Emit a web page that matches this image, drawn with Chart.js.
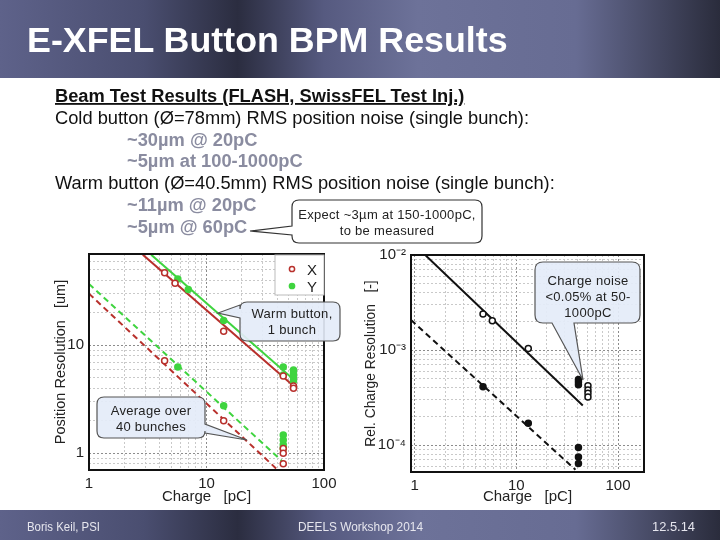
<!DOCTYPE html>
<html>
<head>
<meta charset="utf-8">
<script src="https://cdn.jsdelivr.net/npm/chart.js@4.4.1/dist/chart.umd.min.js"></script>
<style>
body { margin: 0; width: 720px; height: 540px; position: relative; overflow: hidden; background: #fff; font-family: "Liberation Sans", Arial, sans-serif; }
.bar { position: absolute; left: 0; width: 720px;
  background: linear-gradient(to right, #5e628a 0%, #4a4e70 20%, #2b2d40 33%, #565a80 45%, #6d7299 58%, #676c93 80%, #2a2c3c 100%); }
#top { top: 0; height: 78px; }
#bottom { top: 510px; height: 30px; }
canvas { position: absolute; }
#posChart { left: 40px; top: 240px; }
#chgChart { left: 355px; top: 240px; }
#over { position: absolute; left: 0; top: 0; pointer-events: none; }
</style>
</head>
<body>
<div class="bar" id="top"></div>
<div class="bar" id="bottom"></div>
<canvas id="posChart" width="302" height="270"></canvas>
<canvas id="chgChart" width="300" height="270"></canvas>
<svg id="over" width="720" height="540"></svg>
<script>
// ---- left plot: position resolution (warm button) ----
var xSingleQ   = [4.4, 5.4, 14, 45, 55, 55];
var xSingleRes = [46.9, 37.6, 13.5, 5.2, 4.2, 4.0];
var ySingleQ   = [5.7, 7.0, 14, 45, 45, 55, 55, 55, 55];
var ySingleRes = [41, 32.9, 17, 6.3, 5.3, 5.9, 5.5, 5.1, 4.7];
var xAvgQ   = [4.4, 14, 45, 45, 45];
var xAvgRes = [7.2, 2.0, 1.11, 1.0, 0.8];
var yAvgQ   = [5.7, 14, 45, 45, 45, 45];
var yAvgRes = [6.3, 2.75, 1.48, 1.33, 1.2, 1.11];
var xFitQ = [2.87, 58],  xFitRes = [69, 4.0];
var yFitQ = [3.38, 58],  yFitRes = [69, 4.6];
var xAvgFitQ = [1, 40.4], xAvgFitRes = [30, 0.7];
var yAvgFitQ = [1, 46],   yAvgFitRes = [37, 0.81];
var posXTicks = [1, 10, 100],  posXLabels = ["1", "10", "100"];
var posYTicks = [1, 10],       posYLabels = ["1", "10"];

// ---- right plot: relative charge resolution ----
var qSingleQ   = [4.7, 5.8, 13.1, 50.6, 50.6, 50.6, 50.6];
var qSingleRes = [2.39e-3, 2.03e-3, 1.04e-3, 4.2e-4, 3.8e-4, 3.5e-4, 3.2e-4];
var qAvgQ   = [4.7, 13.1, 40.8, 40.8, 40.8, 40.8, 40.8, 40.8];
var qAvgRes = [4.1e-4, 1.69e-4, 4.9e-4, 4.6e-4, 4.3e-4, 9.4e-5, 7.5e-5, 6.4e-5];
var qFitQ = [1.27, 45],    qFitRes = [1e-2, 2.6e-4];
var qAvgFitQ = [0.92, 38.1], qAvgFitRes = [2.07e-3, 5.5e-5];
var chgXTicks = [1, 10, 100],        chgXLabels = ["1", "10", "100"];
var chgYTicks = [1e-4, 1e-3, 1e-2],  chgYLabels = ["10\u207B\u2074", "10\u207B\u00B3", "10\u207B\u00B2"];

var RED = "#b8302c", GREEN = "#3fd43f";
var FONT = "'Liberation Sans', Arial, sans-serif";

function pts(xs, ys) { return xs.map(function (x, i) { return { x: x, y: ys[i] }; }); }
function isDecade(v) { var l = Math.log10(v); return Math.abs(l - Math.round(l)) < 1e-6; }
function logGrid(scale) {
  var t = [];
  for (var e = Math.floor(Math.log10(scale.min)); e <= Math.ceil(Math.log10(scale.max)); e++) {
    for (var m = 1; m < 10; m++) {
      var v = m * Math.pow(10, e);
      if (v >= scale.min * 0.999 && v <= scale.max * 1.001) t.push({ value: v });
    }
  }
  scale.ticks = t;
}
function labelFrom(vals, texts) {
  return function (v) {
    for (var i = 0; i < vals.length; i++) if (Math.abs(v / vals[i] - 1) < 1e-6) return texts[i];
    return "";
  };
}

var frame = {
  id: "frame",
  afterDraw: function (c) {
    var a = c.chartArea, ctx = c.ctx;
    ctx.save();
    ctx.strokeStyle = "#111";
    ctx.lineWidth = 2;
    ctx.strokeRect(a.left, a.top, a.right - a.left, a.bottom - a.top);
    ctx.restore();
  }
};

function axis(min, max, vals, texts, title, size, titleSize) {
  return {
    type: "logarithmic",
    min: min, max: max,
    afterBuildTicks: logGrid,
    afterFit: function (s) { if (s.isHorizontal()) s.height = size; else s.width = size; },
    grid: {
      drawTicks: false,
      color: function (ctx) { return ctx.tick && isDecade(ctx.tick.value) ? "#8c8c8c" : "#c9c9c9"; },
      lineWidth: 1
    },
    border: { display: false, dash: [2, 2] },
    ticks: {
      autoSkip: false, maxRotation: 0, padding: 5,
      color: "#222", font: { family: FONT, size: 15 },
      callback: labelFrom(vals, texts)
    },
    title: { display: true, text: title, color: "#222", font: { family: FONT, size: titleSize }, padding: { top: 0, bottom: 4 } }
  };
}

function scatterSet(data, color, filled) {
  return {
    data: data, showLine: false,
    pointRadius: 3, pointBorderWidth: 1.5,
    pointBackgroundColor: filled ? color : "#fff",
    pointBorderColor: color
  };
}
function fitSet(data, color, dashed) {
  return {
    data: data, showLine: true, pointRadius: 0,
    borderColor: color, borderWidth: 2, borderDash: dashed ? [6, 4] : []
  };
}

new Chart(document.getElementById("posChart"), {
  type: "scatter",
  data: {
    datasets: [
      scatterSet(pts(xSingleQ, xSingleRes), RED, false),
      scatterSet(pts(xAvgQ, xAvgRes), RED, false),
      scatterSet(pts(ySingleQ, ySingleRes), GREEN, true),
      scatterSet(pts(yAvgQ, yAvgRes), GREEN, true),
      fitSet(pts(xFitQ, xFitRes), RED, false),
      fitSet(pts(yFitQ, yFitRes), GREEN, false),
      fitSet(pts(xAvgFitQ, xAvgFitRes), RED, true),
      fitSet(pts(yAvgFitQ, yAvgFitRes), GREEN, true)
    ]
  },
  options: {
    responsive: false, animation: false, devicePixelRatio: 1,
    layout: { padding: { top: 14, right: 18, left: 12, bottom: 0 } },
    plugins: { legend: { display: false }, tooltip: { enabled: false } },
    scales: {
      x: axis(1, 100, posXTicks, posXLabels, "Charge   [pC]", 40, 15),
      y: axis(0.7, 70, posYTicks, posYLabels, "Position Resolution   [um]", 37, 14.5)
    }
  },
  plugins: [frame]
});

new Chart(document.getElementById("chgChart"), {
  type: "scatter",
  data: {
    datasets: [
      scatterSet(pts(qSingleQ, qSingleRes), "#111", false),
      scatterSet(pts(qAvgQ, qAvgRes), "#111", true),
      fitSet(pts(qFitQ, qFitRes), "#111", false),
      fitSet(pts(qAvgFitQ, qAvgFitRes), "#111", true)
    ]
  },
  options: {
    responsive: false, animation: false, devicePixelRatio: 1,
    layout: { padding: { top: 15, right: 11, left: 8, bottom: 0 } },
    plugins: { legend: { display: false }, tooltip: { enabled: false } },
    scales: {
      x: axis(0.92, 180, chgXTicks, chgXLabels, "Charge   [pC]", 38, 15),
      y: axis(5.2e-5, 1e-2, chgYTicks, chgYLabels, "Rel. Charge Resolution   [-]", 48, 13.8)
    }
  },
  plugins: [frame]
});

// ---- slide text, callouts, legend ----
function callout(x, y, w, h, r, side, a, b, tx, ty) {
  var d = "M" + (x + r) + "," + y;
  d += " L" + (x + w - r) + "," + y + " Q" + (x + w) + "," + y + " " + (x + w) + "," + (y + r);
  if (side === "right") d += " L" + (x + w) + "," + a + " L" + tx + "," + ty + " L" + (x + w) + "," + b;
  d += " L" + (x + w) + "," + (y + h - r) + " Q" + (x + w) + "," + (y + h) + " " + (x + w - r) + "," + (y + h);
  if (side === "bottom") d += " L" + b + "," + (y + h) + " L" + tx + "," + ty + " L" + a + "," + (y + h);
  d += " L" + (x + r) + "," + (y + h) + " Q" + x + "," + (y + h) + " " + x + "," + (y + h - r);
  if (side === "left") d += " L" + x + "," + b + " L" + tx + "," + ty + " L" + x + "," + a;
  d += " L" + x + "," + (y + r) + " Q" + x + "," + y + " " + (x + r) + "," + y + " Z";
  return d;
}
function lines(cx, y0, dy, arr, attrs) {
  return arr.map(function (s, i) {
    return '<text x="' + cx + '" y="' + (y0 + i * dy) + '" text-anchor="middle" ' + attrs + '>' + s + '</text>';
  }).join("");
}
var cf = 'font-family="Liberation Sans, Arial, sans-serif" font-size="13" fill="#222" letter-spacing="0.3"';
var body = 'font-family="Liberation Sans, Arial, sans-serif" font-size="18.3"';
var sub = body + ' font-weight="bold" fill="#8a8ca0"';
var svg = "";
svg += '<text x="27" y="52" font-family="Liberation Sans, Arial, sans-serif" font-size="35.8" font-weight="bold" fill="#fff">E-XFEL Button BPM Results</text>';
svg += '<text x="55" y="102" ' + body + ' font-weight="bold" text-decoration="underline" fill="#111">Beam Test Results (FLASH, SwissFEL Test Inj.)</text>';
svg += '<text x="55" y="124" ' + body + ' fill="#111">Cold button (\u00D8=78mm) RMS position noise (single bunch):</text>';
svg += '<text x="127" y="146" ' + sub + '>~30\u00B5m @ 20pC</text>';
svg += '<text x="127" y="167" ' + sub + '>~5\u00B5m at 100-1000pC</text>';
svg += '<text x="55" y="189" ' + body + ' fill="#111">Warm button (\u00D8=40.5mm) RMS position noise (single bunch):</text>';
svg += '<text x="127" y="211" ' + sub + '>~11\u00B5m @ 20pC</text>';
svg += '<text x="127" y="233" ' + sub + '>~5\u00B5m @ 60pC</text>';

svg += '<path d="' + callout(292, 200, 190, 43, 7, "left", 226, 235, 250, 231) + '" fill="#fff" stroke="#333" stroke-width="1.2"/>';
svg += lines(387, 219, 16, ["Expect ~3\u00B5m at 150-1000pC,", "to be measured"], cf);

svg += '<path d="' + callout(240, 302, 100, 39, 7, "left", 305, 318, 218, 313) + '" fill="rgba(228,236,248,0.92)" stroke="#555" stroke-width="1.2"/>';
svg += lines(292, 318, 16, ["Warm button,", "1 bunch"], cf);

svg += '<path d="' + callout(97, 397, 108, 41, 7, "right", 424, 433, 247, 440) + '" fill="rgba(228,236,248,0.92)" stroke="#555" stroke-width="1.2"/>';
svg += lines(151, 415, 16, ["Average over", "40 bunches"], cf);

svg += '<path d="' + callout(535, 262, 105, 61, 8, "bottom", 552, 574, 583, 380) + '" fill="rgba(228,236,248,0.92)" stroke="#555" stroke-width="1.2"/>';
svg += lines(588, 285, 16, ["Charge noise", "&lt;0.05% at 50-", "1000pC"], cf);

// legend box
svg += '<rect x="275" y="255" width="49" height="40" fill="#fff" stroke="#bbb"/>';
svg += '<circle cx="292" cy="269" r="2.6" fill="#fff" stroke="' + RED + '" stroke-width="1.5"/>';
svg += '<circle cx="292" cy="286" r="2.6" fill="' + GREEN + '" stroke="' + GREEN + '" stroke-width="1.5"/>';
svg += '<text x="307" y="275" font-family="Liberation Sans, Arial, sans-serif" font-size="15" fill="#222">X</text>';
svg += '<text x="307" y="292" font-family="Liberation Sans, Arial, sans-serif" font-size="15" fill="#222">Y</text>';

// footer
var ff = 'font-family="Liberation Sans, Arial, sans-serif" font-size="13" fill="#e6e6ee" lengthAdjust="spacingAndGlyphs"';
svg += '<text x="27" y="531" textLength="73" ' + ff + '>Boris Keil, PSI</text>';
svg += '<text x="298" y="531" textLength="125" ' + ff + '>DEELS Workshop 2014</text>';
svg += '<text x="652" y="531" textLength="43" ' + ff + '>12.5.14</text>';
document.getElementById("over").innerHTML = svg;
</script>
</body>
</html>
